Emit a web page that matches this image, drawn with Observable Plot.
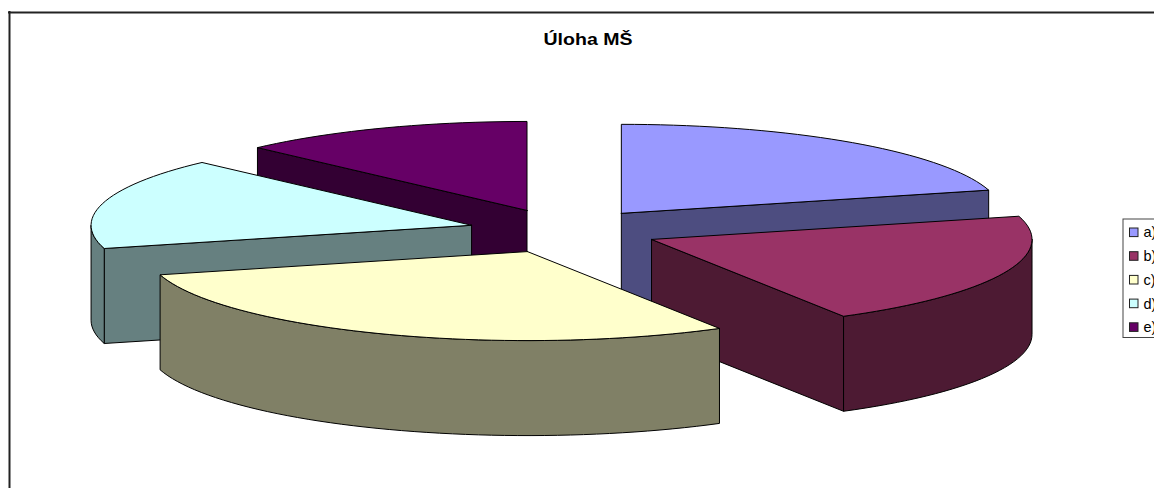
<!DOCTYPE html>
<html>
<head>
<meta charset="utf-8">
<style>html,body{margin:0;padding:0;background:#fff;overflow:hidden}svg{display:block}</style>
<script src="https://cdn.jsdelivr.net/npm/d3@7"></script>
<script src="https://cdn.jsdelivr.net/npm/@observablehq/plot@0.6"></script>
</head>
<body>
<div id="chart"></div>
<script>
const categories = ["a)", "b)", "c)", "d)", "e)"];
const shares = [20.8, 20.78, 29.22, 16.67, 12.53];
const topColors = ["#9999FF", "#993366", "#FFFFCC", "#CCFFFF", "#660066"];
const wallColors = ["#4D4D80", "#4D1A33", "#808066", "#668080", "#330033"];
const chartTitle = "Úloha MŠ";

// Pie projection (ellipse of the tilted 3D pie)
const cx = 563, cy = 230.5, rx = 380.5, ry = 89, depth = 95, explode = 0.25;
const paintOrder = [4, 0, 3, 1, 2];
const total = d3.sum(shares);
const rad = Math.PI / 180;
let acc = 0;
const slices = shares.map((v, i) => {
  const a0 = acc / total * 360; acc += v;
  const a1 = acc / total * 360;
  const mid = (a0 + a1) / 2 * rad;
  return {i, a0, a1, ax: cx + explode * rx * Math.sin(mid), ay: cy - explode * ry * Math.cos(mid)};
});
const polys = [];
const pt = (s, deg) => [s.ax + rx * Math.sin(deg * rad), s.ay - ry * Math.cos(deg * rad)];
const arc = (s, from, to) => {
  const n = Math.max(2, Math.ceil((to - from) / 2)), out = [];
  for (let k = 0; k <= n; k++) out.push(pt(s, from + (to - from) * k / n));
  return out;
};
function addPoly(points, fill) {
  const id = polys.length ? polys[polys.length - 1].id + 1 : 0;
  [...points, points[0]].forEach(([x, y]) => polys.push({id, x, y, fill}));
}
for (const idx of paintOrder) {
  const s = slices[idx], wall = wallColors[idx];
  const apex = [s.ax, s.ay];
  const down = ([x, y]) => [x, y + depth];
  if (Math.sin(s.a0 * rad) < -1e-6) {
    const e = pt(s, s.a0);
    addPoly([apex, e, down(e), down(apex)], wall);
  }
  if (Math.sin(s.a1 * rad) > 1e-6) {
    const e = pt(s, s.a1);
    addPoly([apex, e, down(e), down(apex)], wall);
  }
  const from = Math.max(s.a0, 90), to = Math.min(s.a1, 270);
  if (to > from) {
    const rim = arc(s, from, to);
    addPoly([...rim, ...rim.slice().reverse().map(down)], wall);
  }
  addPoly([apex, ...arc(s, s.a0, s.a1)], topColors[idx]);
}

const legendRows = categories.map((label, i) => ({label, fill: topColors[i], y: 232.3 + i * 23.7}));

const plot = Plot.plot({
  width: 1154,
  height: 488,
  margin: 0,
  style: {background: "#fff", fontFamily: "'Liberation Sans', Arial, sans-serif"},
  x: {domain: [0, 1154], range: [0, 1154], axis: null},
  y: {domain: [0, 488], range: [0, 488], axis: null},
  color: {type: "identity"},
  marks: [
    Plot.ruleY([12], {x1: 8, x2: 1154, stroke: "#222", strokeWidth: 2}),
    Plot.ruleX([9], {y1: 11, y2: 488, stroke: "#222", strokeWidth: 2}),
    Plot.line(polys, {x: "x", y: "y", z: "id", fill: "fill", stroke: "#000", strokeWidth: 1, strokeLinejoin: "miter"}),
    Plot.text([chartTitle], {x: () => 587.5, y: () => 39, text: d => d, fontSize: 16.5, fontWeight: "bold", fill: "#000", className: "chart-title"}),
    Plot.rect([0], {x1: () => 1123, x2: () => 1170, y1: () => 219, y2: () => 337.5, fill: "#fff", stroke: "#444", strokeWidth: 1}),
    Plot.rect(legendRows, {x1: () => 1129.5, x2: () => 1138, y1: d => d.y - 4.3, y2: d => d.y + 4.3, fill: "fill", stroke: "#222", strokeWidth: 1}),
    Plot.text(legendRows, {x: () => 1143, y: "y", text: "label", textAnchor: "start", fontSize: 14.5, fill: "#000"})
  ]
});
// The reference title is set slightly wider than the font's natural width
plot.querySelectorAll(".chart-title text").forEach(t => {
  t.setAttribute("textLength", 89);
  t.setAttribute("lengthAdjust", "spacingAndGlyphs");
});
document.getElementById("chart").appendChild(plot);
</script>
</body>
</html>
